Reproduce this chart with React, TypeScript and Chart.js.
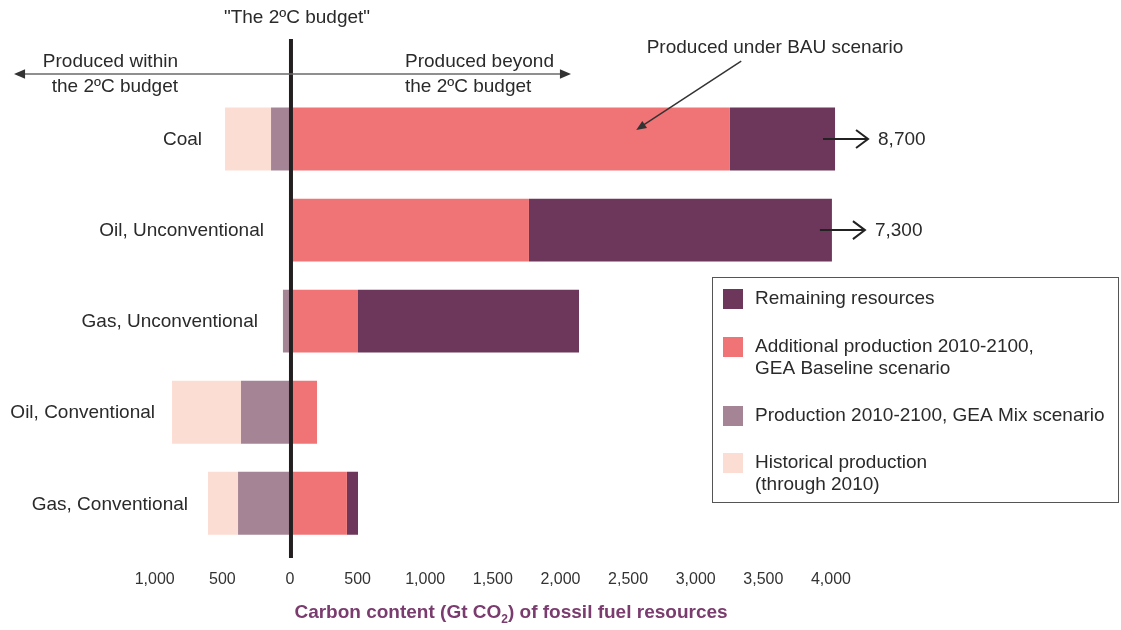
import { useEffect, useRef } from "react";
import { Chart, registerables } from "chart.js";
Chart.register(...registerables);

const categories = ["Coal", "Oil, Unconventional", "Gas, Unconventional", "Oil, Conventional", "Gas, Conventional"];
const mixScenario = [-140, 0, -52, -362, -384];
const historical = [-340, 0, 0, -510, -222];
const additional = [3253, 1767, 503, 200, 421];
const remaining = [777, 2240, 1634, 0, 82];
const beyondLabels = ["8,700", "7,300", "", "", ""];
const tickValues = [-1000, -500, 0, 500, 1000, 1500, 2000, 2500, 3000, 3500, 4000];
const bauArrowValue = 2560;

// style: gap between each category label and its bar
const labelGaps = [23, 29, 25, 17, 20];

const legendItems = [
  { color: "#6c375a", lines: ["Remaining resources"] },
  { color: "#f07476", lines: ["Additional production 2010-2100,", "GEA Baseline scenario"] },
  { color: "#a58595", lines: ["Production 2010-2100, GEA Mix scenario"] },
  { color: "#fcddd3", lines: ["Historical production", "(through 2010)"] },
];

const FONT = "'Liberation Sans', Arial, sans-serif";
const TEXT = "#2a2a2a";

function arrowHead(ctx: CanvasRenderingContext2D, x1: number, y1: number, x2: number, y2: number, size: number) {
  const a = Math.atan2(y2 - y1, x2 - x1);
  ctx.beginPath();
  ctx.moveTo(x2, y2);
  ctx.lineTo(x2 - size * Math.cos(a - 0.4), y2 - size * Math.sin(a - 0.4));
  ctx.lineTo(x2 - size * Math.cos(a + 0.4), y2 - size * Math.sin(a + 0.4));
  ctx.closePath();
  ctx.fill();
}

const annotations = {
  id: "annotations",
  afterDraw(chart: any) {
    const ctx: CanvasRenderingContext2D = chart.ctx;
    const xs = chart.scales.x;
    const ys = chart.scales.y;
    const x0 = xs.getPixelForValue(0);
    ctx.save();

    // category labels
    ctx.font = `19px ${FONT}`;
    ctx.fillStyle = TEXT;
    ctx.textAlign = "right";
    ctx.textBaseline = "middle";
    categories.forEach((c, i) => {
      const left = Math.min(0, mixScenario[i] + historical[i]);
      const lx = left < 0 ? xs.getPixelForValue(left) : x0 + 3;
      ctx.fillText(c, lx - labelGaps[i], ys.getPixelForValue(i) + 1);
    });

    // vertical 2C line
    ctx.strokeStyle = "#231f20";
    ctx.lineWidth = 4;
    ctx.beginPath();
    ctx.moveTo(x0 + 1, 39);
    ctx.lineTo(x0 + 1, 558);
    ctx.stroke();

    // top double arrow
    ctx.strokeStyle = "#6a6a6a";
    ctx.fillStyle = "#333";
    ctx.lineWidth = 1.5;
    ctx.beginPath();
    ctx.moveTo(18, 74);
    ctx.lineTo(566, 74);
    ctx.stroke();
    arrowHead(ctx, 30, 74, 14, 74, 12);
    arrowHead(ctx, 550, 74, 571, 74, 12);

    ctx.fillStyle = TEXT;
    ctx.font = `19px ${FONT}`;
    ctx.textBaseline = "middle";
    ctx.textAlign = "center";
    ctx.fillText("\"The 2ºC budget\"", x0 + 7, 18);
    ctx.textAlign = "right";
    ctx.fillText("Produced within", 178, 62);
    ctx.fillText("the 2ºC budget", 178, 87);
    ctx.textAlign = "left";
    ctx.fillText("Produced beyond", 405, 62);
    ctx.fillText("the 2ºC budget", 405, 87);
    ctx.textAlign = "center";
    ctx.fillText("Produced under BAU scenario", 775, 48);

    // BAU arrow
    const tipX = xs.getPixelForValue(bauArrowValue);
    const tipY = ys.getPixelForValue(0) - 9;
    ctx.strokeStyle = "#333";
    ctx.fillStyle = "#333";
    ctx.lineWidth = 1.5;
    ctx.beginPath();
    ctx.moveTo(tipX + 105, tipY - 69);
    ctx.lineTo(tipX + 4, tipY - 3);
    ctx.stroke();
    arrowHead(ctx, tipX + 105, tipY - 69, tipX, tipY, 11);

    // beyond-axis arrows
    beyondLabels.forEach((lab, i) => {
      if (!lab) return;
      const total = additional[i] + remaining[i];
      const ex = xs.getPixelForValue(total);
      const y = ys.getPixelForValue(i);
      ctx.strokeStyle = "#222";
      ctx.lineWidth = 2;
      ctx.beginPath();
      ctx.moveTo(ex - 12, y);
      ctx.lineTo(ex + 33, y);
      ctx.moveTo(ex + 21, y - 9);
      ctx.lineTo(ex + 33, y);
      ctx.lineTo(ex + 21, y + 9);
      ctx.stroke();
      ctx.fillStyle = TEXT;
      ctx.textAlign = "left";
      ctx.font = `19px ${FONT}`;
      ctx.fillText(lab, ex + 43, y + 1);
    });

    // axis title
    const big = `bold 19px ${FONT}`;
    const small = `bold 12px ${FONT}`;
    ctx.fillStyle = "#7a3c6e";
    ctx.textBaseline = "middle";
    const p1 = "Carbon content (Gt CO";
    const p2 = ") of fossil fuel resources";
    ctx.font = big;
    const w1 = ctx.measureText(p1).width;
    const w2 = ctx.measureText(p2).width;
    ctx.font = small;
    const ws = ctx.measureText("2").width;
    const total = w1 + ws + w2;
    const tx = 511 - total / 2;
    ctx.textAlign = "left";
    ctx.font = big;
    ctx.fillText(p1, tx, 613);
    ctx.font = small;
    ctx.fillText("2", tx + w1, 620);
    ctx.font = big;
    ctx.fillText(p2, tx + w1 + ws, 613);

    // legend
    ctx.strokeStyle = "#555";
    ctx.lineWidth = 1;
    ctx.strokeRect(712.5, 277.5, 406, 225);
    const rows = [299, 347, 416, 463];
    ctx.font = `19px ${FONT}`;
    ctx.textAlign = "left";
    legendItems.forEach((it, i) => {
      ctx.fillStyle = it.color;
      ctx.fillRect(723, rows[i] - 10, 20, 20);
      ctx.fillStyle = TEXT;
      it.lines.forEach((ln, j) => ctx.fillText(ln, 755, rows[i] + j * 22));
    });

    ctx.restore();
  },
};

export default function App() {
  const ref = useRef<HTMLCanvasElement>(null);
  useEffect(() => {
    document.body.style.margin = "0";
    const chart = new Chart(ref.current!, {
      type: "bar",
      data: {
        labels: categories,
        datasets: [
          { label: "Production 2010-2100, GEA Mix scenario", data: mixScenario, backgroundColor: "#a58595" },
          { label: "Historical production (through 2010)", data: historical, backgroundColor: "#fcddd3" },
          { label: "Additional production 2010-2100, GEA Baseline scenario", data: additional, backgroundColor: "#f07476" },
          { label: "Remaining resources", data: remaining, backgroundColor: "#6c375a" },
        ],
      },
      options: {
        indexAxis: "y",
        animation: false,
        responsive: true,
        maintainAspectRatio: false,
        layout: { padding: { left: 141.2, right: 276.5, top: 93.5, bottom: 20 } },
        datasets: { bar: { categoryPercentage: 1, barPercentage: 0.69, borderWidth: 0 } },
        plugins: { legend: { display: false }, tooltip: { enabled: false } },
        scales: {
          x: {
            stacked: true,
            min: -1100,
            max: 4100,
            afterBuildTicks: (scale: any) => {
              scale.ticks = tickValues.map((v) => ({ value: v }));
            },
            grid: { display: false, drawTicks: false },
            border: { display: false },
            ticks: {
              padding: 21,
              color: "#333",
              font: { family: FONT, size: 16 },
              callback: (v: any) => Math.abs(Number(v)).toLocaleString("en-US"),
            },
          },
          y: {
            stacked: true,
            display: false,
          },
        },
      },
      plugins: [annotations],
    });
    return () => chart.destroy();
  }, []);
  return (
    <div style={{ position: "relative", width: 1121, height: 630 }}>
      <canvas ref={ref} />
    </div>
  );
}
